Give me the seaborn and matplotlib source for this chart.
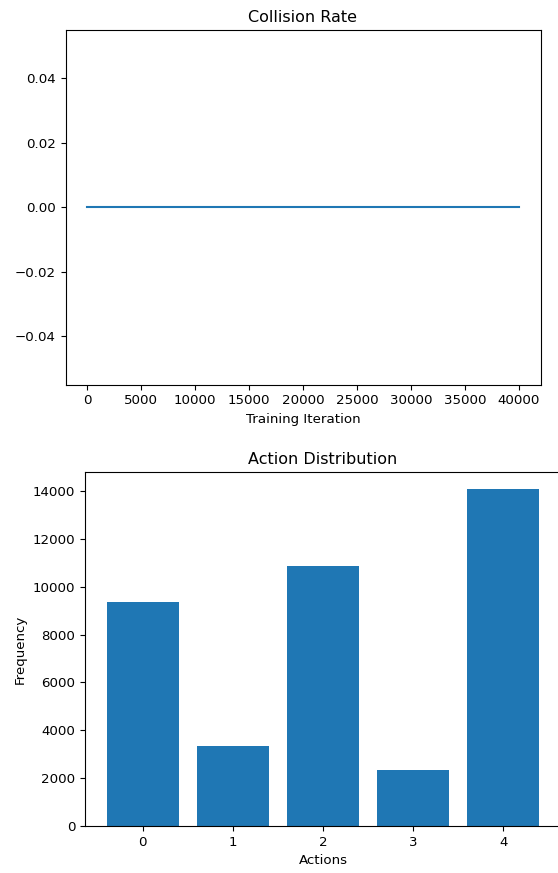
import pandas as pd
import matplotlib
matplotlib.use('Agg')
import matplotlib.pyplot as plt
import seaborn as sns

# Collision rate logged every 1000 training iterations (always zero)
iterations = list(range(0, 40001, 1000))
collision_rate = [0.0] * len(iterations)

# Action counts
actions = [0, 1, 2, 3, 4]
frequency = [9370, 3355, 10860, 2350, 14085]

collision_df = pd.DataFrame({'Training Iteration': iterations, 'Collision Rate': collision_rate})
action_df = pd.DataFrame({'Actions': actions, 'Frequency': frequency})

plt.rcParams['font.family'] = ['DejaVu Sans']
plt.rcParams['font.size'] = 9.6
plt.rcParams['xtick.labelsize'] = 9.6
plt.rcParams['ytick.labelsize'] = 9.6

fig = plt.figure(figsize=(5.58, 8.73), dpi=100)

# Top: collision rate over training
ax1 = fig.add_axes([65.5 / 558, 1 - 384.5 / 873, 475 / 558, 354.5 / 873])
sns.lineplot(x='Training Iteration', y='Collision Rate', data=collision_df, ax=ax1, color='#1f77b4')
ax1.set_title('Collision Rate', fontsize=11.5)
ax1.set_xlabel('Training Iteration')
ax1.set_ylabel('')

# Bottom: action distribution
ax2 = fig.add_axes([85 / 558, 1 - 826 / 873, 476 / 558, 354 / 873])
sns.barplot(x='Actions', y='Frequency', data=action_df, ax=ax2, color='#1f77b4', saturation=1, width=0.8)
ax2.set_xlim(-0.64, 4.64)
ax2.set_title('Action Distribution', fontsize=11.5)
ax2.set_xlabel('Actions')
ax2.set_ylabel('Frequency')

fig.savefig('out.png', dpi=100)
